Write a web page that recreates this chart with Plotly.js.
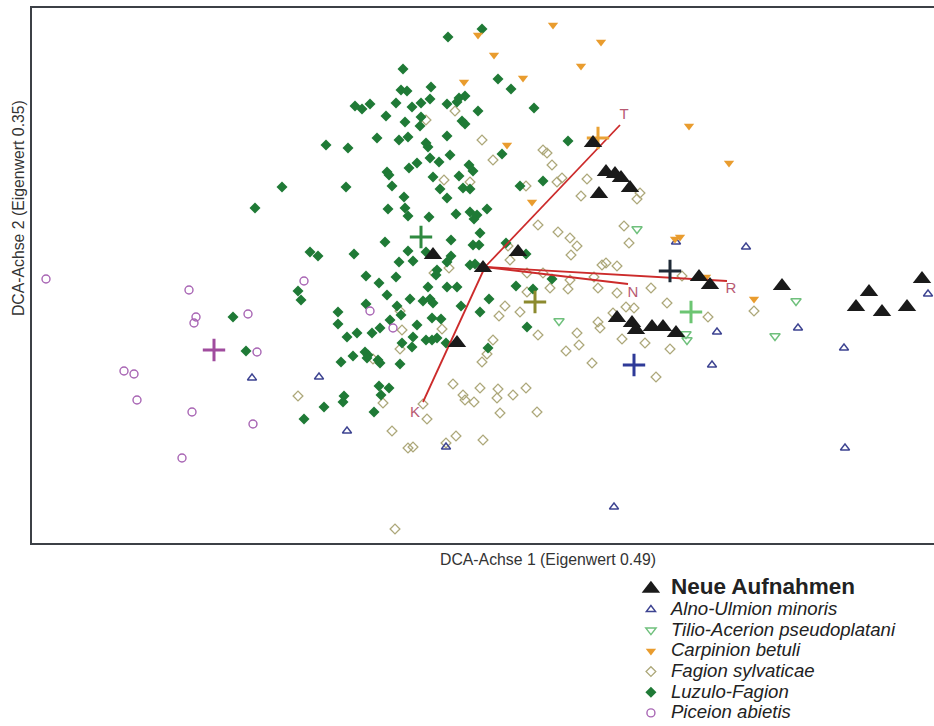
<!DOCTYPE html>
<html>
<head>
<meta charset="utf-8">
<script src="https://cdn.plot.ly/plotly-3.0.1.min.js"></script>
<style>html,body{margin:0;padding:0;background:#fff;}#chart{width:934px;height:726px;}</style>
</head>
<body>
<div id="chart"></div>
<script>
// DCA scores (axis 1 = x, axis 2 = y)
const neueX = [5.61,5.74,5.83,5.89,5.98,5.67,4.01,4.51,4.86,4.25,5.85,6.00,6.04,6.20,6.31,6.44,6.67,6.78,7.50,8.24,8.37,8.50,8.75,8.90];
const neueY = [4.00,3.71,3.69,3.65,3.55,3.49,2.88,2.75,2.91,2.00,2.25,2.20,2.13,2.16,2.16,2.10,2.66,2.58,2.57,2.36,2.51,2.31,2.36,2.64];

const alnoX = [2.20,2.87,3.15,4.14,5.82,6.44,7.14,6.85,6.80,7.66,8.12,8.13,8.96];
const alnoY = [1.65,1.66,1.12,0.96,0.36,3.01,2.96,2.11,1.78,2.15,1.95,0.95,2.49];

const tilioX = [6.05,5.27,6.54,6.55,7.64,7.43];
const tilioY = [3.14,2.22,2.09,2.03,2.42,2.07];

const carpX = [4.46,4.62,4.32,4.91,4.75,5.00,5.21,5.69,5.49,6.57,6.97,6.43,6.48,6.74,7.22];
const carpY = [5.08,4.88,4.61,4.65,3.98,3.41,5.18,5.01,4.77,4.17,3.80,3.04,3.06,2.66,2.44];

const fagX = [3.94,4.23,4.50,4.61,4.12,4.38,4.94,5.11,5.15,5.20,5.25,5.30,5.55,5.49,6.08,6.05,5.06,5.26,5.38,5.45,5.39,5.92,5.97,4.76,4.78,4.17,4.02,4.95,5.11,5.70,5.74,5.85,5.62,5.38,5.18,4.95,5.36,5.66,5.85,6.19,6.35,6.50,5.94,6.02,5.81,5.45,5.47,5.66,5.68,5.34,5.06,4.73,4.88,4.67,4.61,4.55,4.50,5.90,6.13,6.38,6.76,7.22,5.60,6.24,4.21,4.48,4.66,4.65,4.31,4.33,4.42,4.81,4.94,5.05,4.68,3.95,3.91,3.70,3.68,4.10,3.68,3.41,3.51,2.66,3.60,3.76,3.81,4.14,4.24,4.51,3.63];
const fagY = [4.23,4.32,4.03,3.83,3.63,3.61,3.57,3.93,3.90,3.78,3.61,3.65,3.64,3.47,3.50,3.44,3.18,3.11,3.05,2.97,2.88,3.17,3.00,2.97,2.83,2.75,2.70,2.70,2.70,2.78,2.80,2.77,2.66,2.63,2.55,2.51,2.54,2.55,2.50,2.55,2.40,2.67,2.36,2.35,2.30,2.10,1.98,2.21,2.15,1.92,2.08,2.37,2.31,2.27,2.03,1.89,1.81,2.04,2.00,1.94,2.26,2.32,1.80,1.66,1.59,1.55,1.54,1.45,1.48,1.43,1.41,1.48,1.55,1.31,1.30,1.24,1.39,2.13,2.32,2.14,1.94,1.84,1.40,1.47,1.12,0.95,0.96,1.00,1.07,1.03,0.14];

const luzX = [4.50,4.16,3.71,3.69,3.75,3.99,3.98,3.89,3.80,3.64,3.38,3.30,3.23,3.54,3.73,3.88,3.89,4.15,4.25,4.27,4.33,4.46,4.66,4.79,5.02,4.30,4.33,4.15,3.76,3.67,3.45,2.94,3.16,3.94,3.96,3.98,4.07,4.18,3.85,3.77,3.55,3.57,4.37,4.41,4.70,4.27,4.01,3.60,4.08,4.31,4.38,4.15,3.72,3.14,2.50,4.88,5.11,2.23,5.36,
  3.56,3.73,3.76,3.97,4.24,4.38,4.45,4.42,4.55,3.53,4.19,4.48,4.41,4.47,2.78,2.86,3.22,3.76,3.94,3.67,3.81,4.19,4.15,4.38,4.43,4.74,4.94,3.34,3.47,3.64,4.05,4.04,2.66,2.69,3.96,4.15,4.25,3.55,3.78,3.91,3.98,4.01,4.57,4.84,5.01,5.20,
  3.06,3.34,3.65,4.29,4.48,3.06,3.25,3.40,3.48,3.69,3.58,4.00,4.09,3.85,3.15,3.81,3.70,3.94,4.00,4.05,4.14,3.80,4.56,4.95,3.09,3.21,3.33,3.36,3.35,3.46,3.48,3.68,3.47,3.57,3.49,3.12,3.11,2.92,3.42,2.72,2.01,2.14];
const luzY = [5.14,5.06,4.74,4.53,4.52,4.56,4.44,4.40,4.36,4.40,4.39,4.34,4.37,4.27,4.21,4.17,4.26,4.39,4.41,4.45,4.47,4.32,4.64,4.54,4.35,4.22,4.19,4.07,4.06,4.03,4.05,3.98,3.95,4.00,3.96,3.85,3.81,3.88,3.80,3.75,3.71,3.68,3.78,3.72,3.89,3.67,3.66,3.57,3.54,3.55,3.54,3.45,3.46,3.56,3.56,3.57,3.62,3.35,4.02,
  3.34,3.35,3.27,3.26,3.29,3.31,3.28,3.24,3.34,3.01,3.03,3.10,2.98,2.98,2.91,2.87,2.89,2.92,2.91,2.81,2.82,2.87,2.81,2.78,2.79,3.00,2.89,2.67,2.60,2.66,2.73,2.68,2.52,2.43,2.56,2.56,2.56,2.48,2.44,2.42,2.44,2.40,2.44,2.57,2.54,2.64,
  2.31,2.39,2.37,2.37,2.31,2.19,2.10,2.10,2.15,2.28,2.23,2.25,2.24,2.18,2.06,2.06,2.00,2.03,2.03,2.05,2.00,1.96,1.95,2.16,1.81,1.87,1.91,1.88,1.85,1.83,1.80,1.79,1.57,1.55,1.48,1.47,1.41,1.36,1.31,1.24,2.26,1.92];

const piceX = [0.14,1.57,1.64,1.62,2.16,2.25,0.92,1.02,1.05,1.60,2.21,1.50,2.72,3.38,3.61];
const piceY = [2.64,2.53,2.26,2.20,2.29,1.91,1.72,1.69,1.43,1.31,1.19,0.85,2.62,2.32,2.15];

// group centroids (crosses)
const centroidGroups = ['Piceion','Luzulo','Fagion','Carpinion','Neue','Tilio','Alno'];
const centroidX = [1.82,3.89,5.03,5.66,6.38,6.59,6.02];
const centroidY = [1.93,3.06,2.41,4.05,2.72,2.31,1.78];

// environmental vectors
const vecLabels = ['T','K','R','N'];
const vecOriginX = 4.53, vecOriginY = 2.76;
const vecEndX = [5.88,3.91,6.95,5.96];
const vecEndY = [4.18,1.41,2.62,2.59];
const vecLabelX = [5.92,3.83,6.99,6.01];
const vecLabelY = [4.28,1.30,2.54,2.50];

// styles
const FONT = 'Liberation Sans, Arial, sans-serif';
const centroidColor = {Piceion:'#a04c9e',Luzulo:'#2f8a40',Fagion:'#8c8a2e',Carpinion:'#eaa235',Neue:'#1f2a36',Tilio:'#6cc572',Alno:'#2e3a98'};
const it = s => '<i><span style="font-size:18.6px">' + s + '</span></i>';

const traces = [];
traces.push({type:'scatter',mode:'markers',x:fagX,y:fagY,name:it('Fagion sylvaticae'),legendrank:5,
  marker:{symbol:'diamond-open',size:7.5,color:'#ada87a',line:{width:1.3}}});
traces.push({type:'scatter',mode:'markers',x:luzX,y:luzY,name:it('Luzulo-Fagion'),legendrank:6,
  marker:{symbol:'diamond',size:8.5,color:'#1f7a36'}});
traces.push({type:'scatter',mode:'markers',x:piceX,y:piceY,name:it('Piceion abietis'),legendrank:7,
  marker:{symbol:'circle-open',size:8,color:'#a865b4',line:{width:1.4}}});
traces.push({type:'scatter',mode:'markers',x:alnoX,y:alnoY,name:it('Alno-Ulmion minoris'),legendrank:2,
  marker:{symbol:'triangle-up-open',size:8,color:'#3d4391',line:{width:1.4}}});
traces.push({type:'scatter',mode:'markers',x:tilioX,y:tilioY,name:it('Tilio-Acerion pseudoplatani'),legendrank:3,
  marker:{symbol:'triangle-down-open',size:9,color:'#6fc07c',line:{width:1.4}}});
traces.push({type:'scatter',mode:'markers',x:carpX,y:carpY,name:it('Carpinion betuli'),legendrank:4,
  marker:{symbol:'triangle-down',size:9,color:'#e99c2e'}});
vecLabels.forEach((lab,i)=>{
  traces.push({type:'scatter',mode:'lines',x:[vecOriginX,vecEndX[i]],y:[vecOriginY,vecEndY[i]],
    showlegend:false,hoverinfo:'skip',line:{color:'#cc2b2b',width:1.8}});
});
traces.push({type:'scatter',mode:'text',x:vecLabelX,y:vecLabelY,text:vecLabels,showlegend:false,
  textfont:{family:FONT,size:15,color:'#b85a72'}});
traces.push({type:'scatter',mode:'markers',x:centroidX,y:centroidY,showlegend:false,
  marker:{symbol:'cross-thin-open',size:16,color:centroidGroups.map(g=>centroidColor[g]),
    line:{width:3,color:centroidGroups.map(g=>centroidColor[g])}}});
traces.push({type:'scatter',mode:'markers',x:neueX,y:neueY,
  name:'<b><span style="font-size:22.5px">Neue Aufnahmen</span></b>',legendrank:1,
  marker:{symbol:'triangle-up',size:16,color:'#1a1a1a'}});

const layout = {
  width:934,height:726,
  margin:{l:32,r:0,t:8,b:183,autoexpand:false},
  paper_bgcolor:'#fff',plot_bgcolor:'#fff',
  showlegend:true,
  xaxis:{range:[0,9.02],showticklabels:false,ticks:'',showgrid:false,zeroline:false,
    showline:true,mirror:true,linecolor:'#3c4046',linewidth:2},
  yaxis:{range:[0,5.35],showticklabels:false,ticks:'',showgrid:false,zeroline:false,
    showline:true,mirror:false,linecolor:'#3c4046',linewidth:2},
  legend:{x:0.664,y:-0.057,xanchor:'left',yanchor:'top',traceorder:'normal',
    font:{family:FONT,size:13.6,color:'#222'},bgcolor:'rgba(0,0,0,0)',tracegroupgap:0,itemwidth:30},
  annotations:[
    {text:'DCA-Achse 1 (Eigenwert 0.49)',xref:'paper',yref:'paper',x:0.572,y:-0.03,
      xanchor:'center',yanchor:'middle',showarrow:false,font:{family:FONT,size:15.8,color:'#333'}},
    {text:'DCA-Achse 2 (Eigenwert 0.35)',xref:'paper',yref:'paper',x:-0.0155,y:0.626,
      xanchor:'center',yanchor:'middle',textangle:-90,showarrow:false,font:{family:FONT,size:15.8,color:'#333'}}
  ]
};
Plotly.newPlot('chart',traces,layout,{displayModeBar:false,staticPlot:true});
</script>
</body>
</html>
